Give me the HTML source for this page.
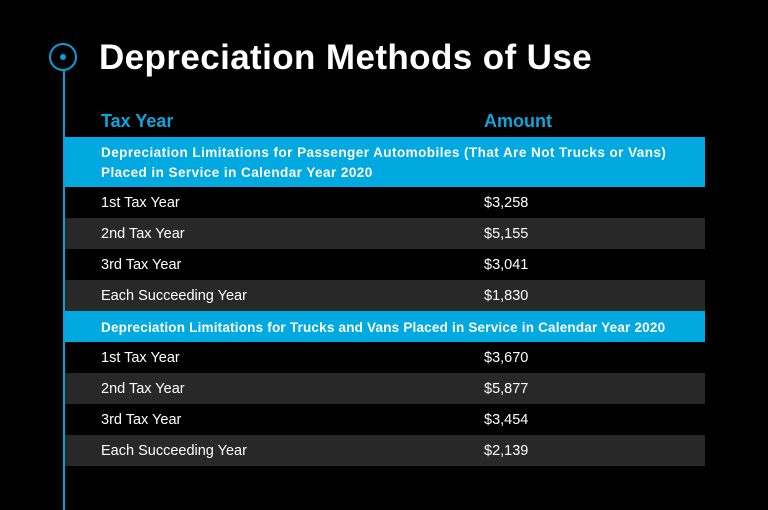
<!DOCTYPE html>
<html><head><style>
body{margin:0;width:768px;height:510px;background:#000;position:relative;overflow:hidden;font-family:"Liberation Sans",sans-serif;color:#fff}
.a{position:absolute}
.row{position:absolute;left:63px;width:642px;height:31px;font-size:14.5px;line-height:33px;background:#000}
.row span{position:absolute}
.l{left:38px}.r{left:421px}
.g{background:#282828}
.b{background:#00a9e0;font-weight:bold;font-size:13.5px;letter-spacing:0.45px}
</style></head><body>
<div class="row b" style="top:137px;height:50px;line-height:20px"><span class="l" style="top:6px">Depreciation Limitations for Passenger Automobiles (That Are Not Trucks or Vans)<br>Placed in Service in Calendar Year 2020</span></div>
<div class="row" style="top:187px"><span class="l">1st Tax Year</span><span class="r">$3,258</span></div>
<div class="row g" style="top:218px"><span class="l">2nd Tax Year</span><span class="r">$5,155</span></div>
<div class="row" style="top:249px"><span class="l">3rd Tax Year</span><span class="r">$3,041</span></div>
<div class="row g" style="top:280px"><span class="l">Each Succeeding Year</span><span class="r">$1,830</span></div>
<div class="row b" style="top:311px;letter-spacing:0.2px"><span class="l">Depreciation Limitations for Trucks and Vans Placed in Service in Calendar Year 2020</span></div>
<div class="row" style="top:342px"><span class="l">1st Tax Year</span><span class="r">$3,670</span></div>
<div class="row g" style="top:373px"><span class="l">2nd Tax Year</span><span class="r">$5,877</span></div>
<div class="row" style="top:404px"><span class="l">3rd Tax Year</span><span class="r">$3,454</span></div>
<div class="row g" style="top:435px"><span class="l">Each Succeeding Year</span><span class="r">$2,139</span></div>
<div class="a" style="left:63px;top:70px;width:2px;height:440px;background:#0a9fd6"></div>
<div class="a" style="left:49px;top:43px;width:24px;height:24px;border:2px solid #0a9fd6;border-radius:50%"></div>
<div class="a" style="left:60px;top:54px;width:6px;height:6px;background:#0a9fd6;border-radius:50%"></div>
<div class="a" style="left:99px;top:37px;font-size:35px;font-weight:bold;line-height:42px;letter-spacing:0.4px">Depreciation Methods of Use</div>
<div class="a" style="left:101px;top:111px;font-size:18px;font-weight:bold;color:#0aa7de">Tax Year</div>
<div class="a" style="left:484px;top:111px;font-size:18px;font-weight:bold;color:#0aa7de">Amount</div>
</body></html>
